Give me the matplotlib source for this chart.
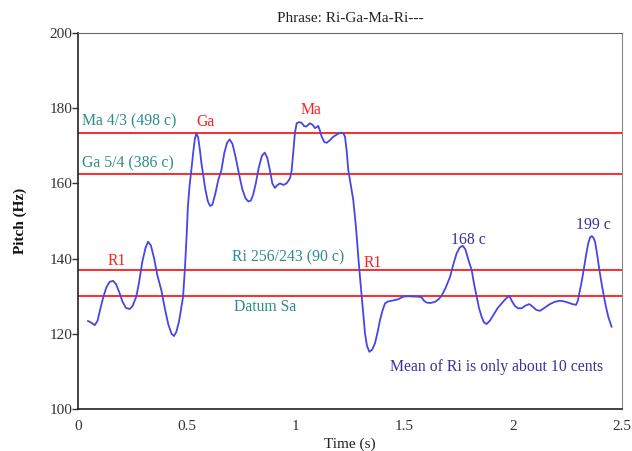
import matplotlib
matplotlib.use("Agg")
import matplotlib.pyplot as plt

# Pitch contour (time in s, pitch in Hz)
time_s = [0.046, 0.06, 0.077, 0.09, 0.10, 0.115, 0.13, 0.145, 0.161, 0.175,
          0.19, 0.205, 0.22, 0.237, 0.25, 0.268, 0.28, 0.295, 0.31, 0.322,
          0.335, 0.35, 0.365, 0.383, 0.40, 0.415, 0.43, 0.441, 0.452, 0.465,
          0.475, 0.483, 0.492, 0.50, 0.505, 0.513, 0.521, 0.53, 0.537, 0.544,
          0.552, 0.56, 0.567, 0.574, 0.585, 0.597, 0.607, 0.617, 0.63, 0.645,
          0.659, 0.672, 0.685, 0.697, 0.71, 0.725, 0.74, 0.755, 0.77, 0.783,
          0.794, 0.805, 0.817, 0.83, 0.845, 0.858, 0.87, 0.882, 0.893, 0.905,
          0.915, 0.928, 0.944, 0.958, 0.967, 0.975, 0.982, 0.99, 0.997, 1.005,
          1.015, 1.028, 1.038, 1.048, 1.058, 1.066, 1.078, 1.089, 1.097, 1.104,
          1.112, 1.12, 1.132, 1.143, 1.158, 1.173, 1.195, 1.212, 1.22, 1.227,
          1.235, 1.242, 1.255, 1.265, 1.278, 1.288, 1.296, 1.304, 1.312, 1.319,
          1.328, 1.339, 1.352, 1.365, 1.377, 1.388, 1.40, 1.411, 1.425, 1.442,
          1.458, 1.472, 1.495, 1.52, 1.541, 1.56, 1.579, 1.59, 1.602, 1.62,
          1.641, 1.657, 1.671, 1.69, 1.71, 1.725, 1.74, 1.755, 1.768, 1.78,
          1.795, 1.809, 1.82, 1.832, 1.843, 1.855, 1.866, 1.878, 1.893, 1.909,
          1.928, 1.947, 1.965, 1.982, 1.995, 2.008, 2.022, 2.039, 2.056, 2.074,
          2.09, 2.105, 2.123, 2.146, 2.169, 2.19, 2.215, 2.235, 2.253, 2.272,
          2.289, 2.297, 2.304, 2.315, 2.325, 2.335, 2.345, 2.353, 2.361, 2.369,
          2.376, 2.386, 2.396, 2.405, 2.414, 2.425, 2.437, 2.452]
pitch_hz = [123.4, 123.0, 122.3, 123.5, 126.0, 129.5, 132.3, 133.8, 134.1, 133.2,
            131.0, 128.5, 126.9, 126.6, 127.3, 129.9, 133.5, 139.0, 142.8, 144.5,
            143.5, 140.0, 135.5, 131.6, 126.5, 122.5, 120.0, 119.4, 120.5, 123.5,
            127.0, 129.9, 138.0, 147.0, 153.8, 159.5, 163.6, 168.5, 171.8, 173.3,
            172.3, 169.0, 165.5, 162.7, 158.5, 155.2, 154.0, 154.3, 157.0, 161.0,
            163.5, 168.0, 170.8, 171.7, 170.5, 166.8, 162.5, 158.5, 156.0, 155.2,
            155.4, 157.0, 160.0, 164.0, 167.3, 168.2, 166.8, 163.5, 160.0, 158.8,
            159.5, 160.0, 159.6, 160.0, 160.7, 161.5, 163.5, 169.0, 173.5, 176.0,
            176.3, 176.1, 175.3, 175.1, 175.6, 176.0, 175.6, 174.7, 175.0, 175.3,
            174.0, 172.4, 171.0, 170.8, 171.5, 172.4, 173.2, 173.5, 173.3, 172.4,
            168.5, 163.6, 159.0, 155.6, 148.0, 140.5, 135.0, 129.9, 124.5, 120.1,
            116.8, 115.2, 115.8, 117.5, 120.5, 123.7, 126.3, 128.1, 128.6, 128.8,
            129.0, 129.2, 129.9, 130.0, 129.9, 129.9, 129.7, 128.8, 128.3, 128.2,
            128.5, 129.2, 130.1, 132.3, 135.2, 138.5, 141.4, 143.0, 143.4, 142.5,
            139.5, 137.0, 133.3, 129.9, 126.8, 124.5, 123.0, 122.6, 123.5, 125.0,
            126.8, 128.1, 129.3, 130.1, 128.6, 127.4, 126.8, 126.8, 127.5, 127.9,
            127.2, 126.4, 126.1, 127.0, 127.9, 128.5, 128.8, 128.6, 128.3, 127.9,
            127.7, 128.8, 130.8, 134.0, 137.4, 141.0, 144.1, 145.6, 146.0, 145.5,
            144.5, 141.0, 137.0, 133.8, 130.8, 127.5, 124.5, 121.9]

# Reference pitches (Hz)
ref_names = ["Datum Sa", "Ri", "Ga", "Ma"]
ref_hz = [130.0, 136.95, 162.5, 173.3]

x_ticks = [0, 0.5, 1, 1.5, 2, 2.5]
x_tick_labels = ["0", "0.5", "1", "1.5", "2", "2.5"]
y_ticks = [100, 120, 140, 160, 180, 200]

serif = ["Liberation Serif", "DejaVu Serif"]
plt.rcParams["font.family"] = serif

fig = plt.figure(figsize=(6.32, 4.51), dpi=100)
ax = fig.add_axes([0.1234, 0.0931, 0.8608, 0.8337])

for h in ref_hz:
    ax.axhline(h, color="#ff1a1a", lw=1.3, zorder=2)

ax.plot(time_s, pitch_hz, color="#4646e6", lw=1.3, zorder=3)

ax.set_xlim(0, 2.5)
ax.set_ylim(100, 200)
ax.set_xticks(x_ticks)
ax.set_xticklabels(x_tick_labels)
ax.set_yticks(y_ticks)
ax.tick_params(axis="both", labelsize=11, colors="#333333", width=1, direction="out")
ax.tick_params(axis="y", length=4, pad=0)
ax.tick_params(axis="x", length=0, pad=8)

for s in ["left", "bottom"]:
    ax.spines[s].set_color("#222222")
    ax.spines[s].set_linewidth(1.2)
ax.spines["top"].set_color("#666666")
ax.spines["right"].set_color("#888888")

ax.set_title("Phrase: Ri-Ga-Ma-Ri---", fontsize=11, color="#222222", pad=8)
ax.set_xlabel("Time (s)", fontsize=11, color="#222222", labelpad=3)
ax.set_ylabel("Pitch (Hz)", fontsize=11, fontweight="bold", color="#111111", labelpad=16)

teal = "#2e8b8b"
red = "#ff2020"
navy = "#333399"
fs = 11.3

ax.text(0.018, 174.3, "Ma 4/3 (498 c)", color=teal, fontsize=fs, ha="left", va="bottom")
ax.text(0.018, 163.3, "Ga 5/4 (386 c)", color=teal, fontsize=fs, ha="left", va="bottom")
ax.text(0.965, 140.4, "Ri 256/243 (90 c)", color=teal, fontsize=fs, ha="center", va="center")
ax.text(0.86, 127.1, "Datum Sa", color=teal, fontsize=fs, ha="center", va="center")

ax.text(0.584, 176.3, "Ga", color=red, fontsize=fs, ha="center", va="center")
ax.text(1.071, 179.5, "Ma", color=red, fontsize=fs, ha="center", va="center")
ax.text(0.18, 139.4, "R1", color=red, fontsize=fs, ha="center", va="center")
ax.text(1.356, 138.8, "R1", color=red, fontsize=fs, ha="center", va="center")

ax.text(1.792, 145.0, "168 c", color=navy, fontsize=fs, ha="center", va="center")
ax.text(2.367, 148.9, "199 c", color=navy, fontsize=fs, ha="center", va="center")
ax.text(1.925, 111.2, "Mean of Ri is only about 10 cents", color=navy, fontsize=fs,
        ha="center", va="center")

fig.savefig("out.png", dpi=100)
